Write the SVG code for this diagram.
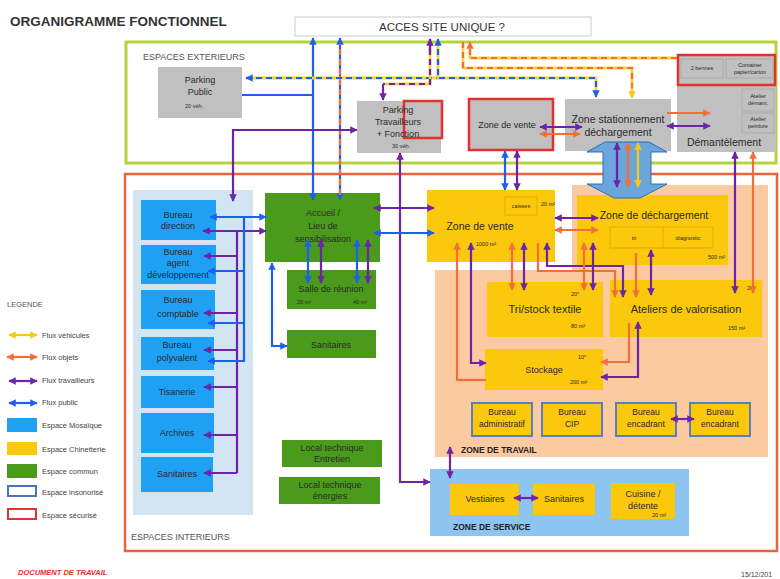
<svg xmlns="http://www.w3.org/2000/svg" width="780" height="579" viewBox="0 0 780 579">
<style>
text{font-family:"Liberation Sans",Arial,sans-serif;fill:#2a2a2a}
.t{font-size:9px;text-anchor:middle}
.tl{font-size:10.5px;text-anchor:middle}
.s{font-size:5.5px}
.lg{font-size:7.5px;fill:#444}
.hd{font-size:9px;fill:#555}
.bd{font-size:8.5px;font-weight:bold;fill:#222}
.gray{fill:#c0c0c0}
.green{fill:#4a9a1c}
.mos{fill:#1ea0f5}
.yel{fill:#fbc80c}
.buro{fill:#fbc80c;stroke:#5a7fc0;stroke-width:2}
.sec{fill:none;stroke:#e53030;stroke-width:2.5}
.cell{fill:none;stroke:#a8a8a8;stroke-width:0.8}
.b,.p,.o,.y,.db,.dp,.do{fill:none;stroke-width:2.2}
.b{stroke:#1f5ff0}.p{stroke:#6e24a6}.o{stroke:#f46e3a}.y{stroke:#f8c81a}
.yb{fill:none;stroke:#f8d040;stroke-width:2.8}
.db{stroke:#1f5ff0;stroke-dasharray:6 4}
.dp{stroke:#6e24a6;stroke-dasharray:6 4}
.do{stroke:#f46e3a;stroke-dasharray:6 4}
</style>
<defs>
<marker id="mb" viewBox="0 0 10 10" refX="9" refY="5" markerWidth="3.4" markerHeight="3.4" orient="auto-start-reverse"><path d="M0,0L10,5L0,10z" fill="#1f5ff0"/></marker>
<marker id="mp" viewBox="0 0 10 10" refX="9" refY="5" markerWidth="3.4" markerHeight="3.4" orient="auto-start-reverse"><path d="M0,0L10,5L0,10z" fill="#6e24a6"/></marker>
<marker id="mo" viewBox="0 0 10 10" refX="9" refY="5" markerWidth="3.4" markerHeight="3.4" orient="auto-start-reverse"><path d="M0,0L10,5L0,10z" fill="#f46e3a"/></marker>
<marker id="my" viewBox="0 0 10 10" refX="9" refY="5" markerWidth="3.4" markerHeight="3.4" orient="auto-start-reverse"><path d="M0,0L10,5L0,10z" fill="#f8c81a"/></marker>
</defs>
<rect width="780" height="579" fill="#fff"/>

<text x="10" y="26" style="font-size:13.5px;font-weight:bold;fill:#333">ORGANIGRAMME FONCTIONNEL</text>

<g id="acces"><rect x="295" y="17" width="296" height="19" fill="#fff" stroke="#ccc"/><text x="442" y="31" style="font-size:11.5px;text-anchor:middle;fill:#333">ACCES SITE UNIQUE ?</text></g>

<g id="espaces-exterieurs"><rect x="126" y="42" width="650" height="121" fill="none" stroke="#b5d43c" stroke-width="3"/><text x="143" y="60" class="hd">ESPACES EXTERIEURS</text></g>
<g id="espaces-interieurs"><rect x="125" y="174" width="652" height="377" fill="none" stroke="#e8643c" stroke-width="2.5"/><text x="131" y="540" class="hd">ESPACES INTERIEURS</text></g>

<g id="zone-travail"><polygon points="572,185 768,185 768,457 435,457 435,270 572,270" fill="#fbcaa0"/><text x="461" y="453" class="bd">ZONE DE TRAVAIL</text></g>
<g id="zone-service"><rect x="430" y="469" width="259" height="67" fill="#8ec5f0"/><text x="453" y="530" class="bd">ZONE DE SERVICE</text></g>
<g id="panel-mosaique"><rect x="133" y="190" width="120" height="325" fill="#d3e5f3"/></g>

<g id="parking-public"><rect x="158" y="67" width="84" height="51" class="gray"/><text x="200" y="83" class="t">Parking</text><text x="200" y="95" class="t">Public</text><text x="185" y="108" class="s">20 véh.</text></g>
<g id="parking-travailleurs"><rect x="357" y="101" width="84" height="52" class="gray"/><rect x="404" y="101" width="38" height="37" class="sec"/><text x="398" y="113" class="t">Parking</text><text x="398" y="125" class="t">Travailleurs</text><text x="398" y="137" class="t">+ Fonction</text><text x="392" y="148" class="s">30 véh.</text></g>
<g id="zone-vente-ext"><rect x="469" y="99" width="84" height="51" class="gray"/><rect x="469" y="99" width="84" height="51" class="sec"/><text x="507" y="128" class="t">Zone de vente</text></g>
<g id="zone-stationnement"><rect x="565" y="99" width="106" height="52" class="gray"/><text x="618" y="123" class="tl">Zone stationnement</text><text x="618" y="136" class="tl">déchargement</text></g>
<g id="demantelement"><rect x="677" y="54" width="99" height="98" class="gray"/><rect x="678" y="55" width="97" height="30" class="sec"/><rect x="681" y="59" width="42" height="19" class="cell"/><rect x="726" y="59" width="47" height="19" class="cell"/><text x="702" y="70" class="s" text-anchor="middle">2 bennes</text><text x="750" y="67" class="s" text-anchor="middle">Container</text><text x="750" y="74" class="s" text-anchor="middle">papier/carton</text><rect x="742" y="89" width="32" height="22" class="cell"/><rect x="742" y="113" width="32" height="20" class="cell"/><text x="758" y="98" class="s" text-anchor="middle">Atelier</text><text x="758" y="105" class="s" text-anchor="middle">démant.</text><text x="758" y="121" class="s" text-anchor="middle">Atelier</text><text x="758" y="128" class="s" text-anchor="middle">peinture</text><text x="724" y="146" class="tl">Démantèlement</text></g>

<g id="bureau-direction"><rect x="141" y="200" width="75" height="40" class="mos"/><text x="178" y="218" class="t">Bureau</text><text x="178" y="229" class="t">direction</text></g>
<g id="bureau-agent"><rect x="141" y="245" width="75" height="39" class="mos"/><text x="178" y="255" class="t">Bureau</text><text x="178" y="266" class="t">agent</text><text x="178" y="278" class="t">développement</text></g>
<g id="bureau-comptable"><rect x="141" y="290" width="74" height="39" class="mos"/><text x="178" y="303" class="t">Bureau</text><text x="178" y="317" class="t">comptable</text></g>
<g id="bureau-polyvalent"><rect x="141" y="337" width="73" height="33" class="mos"/><text x="177" y="348" class="t">Bureau</text><text x="177" y="361" class="t">polyvalent</text></g>
<g id="tisanerie"><rect x="141" y="376" width="73" height="32" class="mos"/><text x="177" y="395" class="t">Tisanerie</text></g>
<g id="archives"><rect x="141" y="413" width="73" height="40" class="mos"/><text x="177" y="436" class="t">Archives</text></g>
<g id="sanitaires-mos"><rect x="141" y="457" width="72" height="35" class="mos"/><text x="177" y="477" class="t">Sanitaires</text></g>

<g id="accueil"><rect x="265" y="193" width="115" height="69" class="green"/><text x="323" y="216" class="t">Accueil /</text><text x="323" y="229" class="t">Lieu de</text><text x="323" y="242" class="t">sensibilisation</text></g>
<g id="salle-reunion"><rect x="287" y="270" width="89" height="39" class="green"/><text x="331" y="292" class="t">Salle de réunion</text><text x="297" y="304" class="s">20 m²</text><text x="353" y="304" class="s">40 m²</text></g>
<g id="sanitaires-commun"><rect x="287" y="330" width="89" height="28" class="green"/><text x="331" y="348" class="t">Sanitaires</text></g>
<g id="local-entretien"><rect x="282" y="440" width="100" height="27" class="green"/><text x="332" y="451" class="t">Local technique</text><text x="332" y="462" class="t">Entretien</text></g>
<g id="local-energies"><rect x="279" y="477" width="101" height="27" class="green"/><text x="330" y="488" class="t">Local technique</text><text x="330" y="499" class="t">énergies</text></g>

<g id="zone-vente"><rect x="427" y="190" width="128" height="72" class="yel"/><rect x="505" y="197" width="32" height="18" fill="none" stroke="#d9a800" stroke-width="0.8"/><text x="521" y="208" class="s" text-anchor="middle">caisses</text><text x="541" y="206" class="s">20 m²</text><text x="480" y="230" class="tl">Zone de vente</text><text x="476" y="246" class="s">1000 m²</text></g>
<g id="zone-dechargement"><rect x="577" y="195" width="151" height="70" class="yel"/><text x="654" y="219" class="tl">Zone de déchargement</text><rect x="610" y="227" width="103" height="21" fill="none" stroke="#d9a800" stroke-width="0.8"/><line x1="663" y1="227" x2="663" y2="248" stroke="#d9a800" stroke-width="0.8"/><text x="634" y="240" class="s" text-anchor="middle">tri</text><text x="688" y="240" class="s" text-anchor="middle">diagnostic</text><text x="708" y="259" class="s">500 m²</text></g>
<g id="tri-stock"><rect x="487" y="282" width="116" height="55" class="yel"/><text x="571" y="296" class="s">20°</text><text x="545" y="313" style="font-size:11px;text-anchor:middle">Tri/stock textile</text><text x="571" y="328" class="s">80 m²</text></g>
<g id="ateliers"><rect x="610" y="280" width="152" height="57" class="yel"/><text x="747" y="290" class="s">20°</text><text x="686" y="313" style="font-size:11px;text-anchor:middle">Ateliers de valorisation</text><text x="728" y="330" class="s">150 m²</text></g>
<g id="stockage"><rect x="485" y="349" width="118" height="41" class="yel"/><text x="578" y="359" class="s">10°</text><text x="544" y="373" class="t">Stockage</text><text x="570" y="384" class="s">200 m²</text></g>
<g id="bureau-administratif"><rect x="472" y="403" width="60" height="33" class="buro"/><text x="502" y="415" style="font-size:8.5px;text-anchor:middle">Bureau</text><text x="502" y="427" style="font-size:8.5px;text-anchor:middle">administratif</text></g>
<g id="bureau-cip"><rect x="542" y="403" width="60" height="33" class="buro"/><text x="572" y="415" style="font-size:8.5px;text-anchor:middle">Bureau</text><text x="572" y="427" style="font-size:8.5px;text-anchor:middle">CIP</text></g>
<g id="bureau-encadrant-1"><rect x="616" y="403" width="60" height="33" class="buro"/><text x="646" y="415" style="font-size:8.5px;text-anchor:middle">Bureau</text><text x="646" y="427" style="font-size:8.5px;text-anchor:middle">encadrant</text></g>
<g id="bureau-encadrant-2"><rect x="690" y="403" width="60" height="33" class="buro"/><text x="720" y="415" style="font-size:8.5px;text-anchor:middle">Bureau</text><text x="720" y="427" style="font-size:8.5px;text-anchor:middle">encadrant</text></g>
<g id="vestiaires"><rect x="450" y="484" width="69" height="31" class="yel"/><text x="485" y="502" class="t">Vestiaires</text></g>
<g id="sanitaires-service"><rect x="533" y="484" width="62" height="31" class="yel"/><text x="564" y="502" class="t">Sanitaires</text></g>
<g id="cuisine"><rect x="611" y="483" width="64" height="36" class="yel"/><text x="643" y="497" class="t">Cuisine /</text><text x="643" y="509" class="t">détente</text><text x="652" y="517" class="s">20 m²</text></g>

<g id="connecteurs">
<polygon points="605,142 649,142 667,152 651,152 651,184 667,184 640,198 614,198 587,184 603,184 603,152 587,152" fill="#6aa5dc" stroke="#2e6db4" stroke-width="1"/>
<path class="p" d="M617,143V187" marker-start="url(#mp)" marker-end="url(#mp)"/>
<path class="o" d="M628,143V187" marker-start="url(#mo)" marker-end="url(#mo)"/>
<path class="y" d="M638,143V187" marker-start="url(#my)" marker-end="url(#my)"/>

<path class="b" d="M313,200V38" marker-start="url(#mb)" marker-end="url(#mb)"/>
<path class="b" d="M340,200V38" marker-start="url(#mb)" marker-end="url(#mb)"/>
<path class="do" d="M340,195V44"/>
<path class="b" d="M242,95H313"/>
<path class="yb" d="M246,78H438"/><path class="db" d="M246,78H438" marker-start="url(#mb)"/>
<path class="yb" d="M438,42V78H596V94"/><path class="db" d="M438,39V78H596V97" marker-start="url(#mb)" marker-end="url(#mb)"/>
<path class="yb" d="M430,42V84H383"/><path class="dp" d="M430,39V84H383"/>
<path class="p" d="M383,84V100" marker-end="url(#mp)"/>
<path class="p" d="M430,52V39" marker-end="url(#mp)"/>
<path class="yb" d="M677,58H470V46"/><path class="do" d="M677,58H470V42" marker-end="url(#mo)"/>
<path class="yb" d="M463,42V68H632V94"/><path class="do" d="M463,42V68H632V88"/>
<path class="y" d="M632,88V98" marker-end="url(#my)"/>

<path class="p" d="M233,201V130H357" marker-start="url(#mp)" marker-end="url(#mp)"/>
<path class="p" d="M400,153V482H430" marker-start="url(#mp)" marker-end="url(#mp)"/>

<path class="b" d="M505,151V190" marker-start="url(#mb)" marker-end="url(#mb)"/>
<path class="p" d="M517,151V190" marker-start="url(#mp)" marker-end="url(#mp)"/>
<path class="p" d="M540,127H582" marker-start="url(#mp)" marker-end="url(#mp)"/>
<path class="o" d="M540,134H580" marker-start="url(#mo)" marker-end="url(#mo)"/>
<path class="p" d="M667,126H710" marker-start="url(#mp)" marker-end="url(#mp)"/>
<path class="o" d="M667,113H710" marker-end="url(#mo)"/>
<path class="p" d="M735,152V293" marker-start="url(#mp)" marker-end="url(#mp)"/>
<path class="o" d="M753,152V293" marker-start="url(#mo)" marker-end="url(#mo)"/>

<path class="b" d="M210,217H266" marker-start="url(#mb)" marker-end="url(#mb)"/>
<path class="p" d="M203,231H266" marker-start="url(#mp)" marker-end="url(#mp)"/>
<path class="p" d="M237,231V473"/>
<path class="p" d="M237,256H204" marker-end="url(#mp)"/>
<path class="p" d="M237,313H204" marker-end="url(#mp)"/>
<path class="p" d="M237,350H204" marker-end="url(#mp)"/>
<path class="p" d="M237,387H204" marker-end="url(#mp)"/>
<path class="p" d="M237,435H204" marker-end="url(#mp)"/>
<path class="p" d="M237,473H204" marker-end="url(#mp)"/>
<path class="b" d="M244,217V362"/>
<path class="b" d="M244,271H208" marker-end="url(#mb)"/>
<path class="b" d="M244,323H208" marker-end="url(#mb)"/>
<path class="b" d="M244,361H208" marker-end="url(#mb)"/>

<path class="b" d="M308,240V283" marker-start="url(#mb)" marker-end="url(#mb)"/>
<path class="p" d="M321,240V283" marker-start="url(#mp)" marker-end="url(#mp)"/>
<path class="b" d="M357,240V283" marker-start="url(#mb)" marker-end="url(#mb)"/>
<path class="p" d="M368,240V283" marker-start="url(#mp)" marker-end="url(#mp)"/>
<path class="b" d="M272,263V346H287" marker-start="url(#mb)" marker-end="url(#mb)"/>
<path class="p" d="M374,208H434" marker-start="url(#mp)" marker-end="url(#mp)"/>
<path class="b" d="M374,233H434" marker-start="url(#mb)" marker-end="url(#mb)"/>

<path class="p" d="M555,218H598" marker-start="url(#mp)" marker-end="url(#mp)"/>
<path class="o" d="M555,230H598" marker-start="url(#mo)" marker-end="url(#mo)"/>

<path class="o" d="M457,380V243" marker-end="url(#mo)"/>
<path class="o" d="M456,380H486"/>
<path class="p" d="M471,243V363H486" marker-start="url(#mp)" marker-end="url(#mp)"/>
<path class="o" d="M512,243V290" marker-start="url(#mo)" marker-end="url(#mo)"/>
<path class="p" d="M524,243V290" marker-start="url(#mp)" marker-end="url(#mp)"/>
<path class="o" d="M538,243V271H615V297" marker-end="url(#mo)"/>
<path class="p" d="M547,243V266H623V297" marker-start="url(#mp)" marker-end="url(#mp)"/>
<path class="o" d="M584,243V290" marker-start="url(#mo)" marker-end="url(#mo)"/>
<path class="p" d="M593,243V290" marker-start="url(#mp)" marker-end="url(#mp)"/>
<path class="o" d="M636,253V297" marker-end="url(#mo)"/>
<path class="p" d="M651,250V295" marker-start="url(#mp)" marker-end="url(#mp)"/>
<path class="o" d="M629,323V362H601" marker-end="url(#mo)"/>
<path class="p" d="M638,322V377H601" marker-start="url(#mp)" marker-end="url(#mp)"/>
<path class="p" d="M671,419H694" marker-start="url(#mp)" marker-end="url(#mp)"/>
<path class="p" d="M450,447V478" marker-start="url(#mp)" marker-end="url(#mp)"/>
<path class="p" d="M514,498H538" marker-start="url(#mp)" marker-end="url(#mp)"/>
</g>

<g id="legende">
<text x="7" y="307" class="lg" style="fill:#555">LEGENDE</text>
<path class="y" d="M9,335H37" marker-start="url(#my)" marker-end="url(#my)"/><text x="42" y="338" class="lg">Flux véhicules</text>
<path class="o" d="M7,357H37" marker-start="url(#mo)" marker-end="url(#mo)"/><text x="42" y="360" class="lg">Flux objets</text>
<path class="p" d="M9,381H37" marker-start="url(#mp)" marker-end="url(#mp)"/><text x="42" y="383" class="lg">Flux travailleurs</text>
<path class="b" d="M9,403H37" marker-start="url(#mb)" marker-end="url(#mb)"/><text x="42" y="405" class="lg">Flux public</text>
<rect x="7" y="418" width="30" height="14" class="mos"/><text x="42" y="428" class="lg">Espace Mosaïque</text>
<rect x="7" y="442" width="30" height="13" class="yel"/><text x="42" y="452" class="lg">Espace Chinetterie</text>
<rect x="7" y="464" width="30" height="14" class="green"/><text x="42" y="474" class="lg">Espace commun</text>
<rect x="8" y="486" width="28" height="10" fill="none" stroke="#4a72b8" stroke-width="2"/><text x="42" y="495" class="lg">Espace insonorisé</text>
<rect x="8" y="509" width="28" height="10" fill="none" stroke="#e53030" stroke-width="2"/><text x="42" y="518" class="lg">Espace sécurisé</text>
</g>

<text x="18" y="575" style="font-size:7.5px;font-style:italic;font-weight:bold;fill:#e03020">DOCUMENT DE TRAVAIL</text>
<text x="741" y="577" style="font-size:7px;fill:#444">15/12/201</text>
</svg>
